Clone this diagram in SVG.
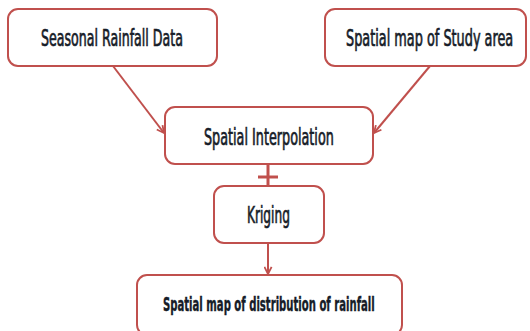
<svg xmlns="http://www.w3.org/2000/svg" width="530" height="331" viewBox="0 0 530 331">
<defs>
<style>
.box{fill:#fff;stroke:#c0504d;stroke-width:2}
.lbl{font-family:"DejaVu Sans Condensed","DejaVu Sans",sans-serif;font-size:23px;fill:#161c28;stroke:#161c28;stroke-width:0.7}
.b{font-size:19px;font-weight:bold;stroke-width:0.4}
.con{stroke:#c0504d;stroke-width:2;fill:none}
</style>
<marker id="ah" viewBox="0 0 10 10" refX="9" refY="5" markerWidth="9" markerHeight="9" markerUnits="userSpaceOnUse" orient="auto">
<path d="M1,1 L9,5 L1,9" fill="none" stroke="#c0504d" stroke-width="2"/>
</marker>
</defs>
<rect width="530" height="331" fill="#fff"/>
<g id="connectors">
<line class="con" x1="113" y1="66" x2="164" y2="133" marker-end="url(#ah)"/>
<line class="con" x1="430" y1="66" x2="374" y2="133" marker-end="url(#ah)"/>
<line x1="268" y1="164" x2="268" y2="186" stroke="#c0504d" stroke-width="3"/>
<line x1="258" y1="177" x2="278" y2="177" stroke="#c0504d" stroke-width="3"/>
<line class="con" x1="268" y1="243" x2="268" y2="274" marker-end="url(#ah)"/>
</g>
<g id="n1">
<rect class="box" x="8" y="9" width="209" height="57" rx="10"/>
<text class="lbl" transform="translate(41,46) scale(0.55,1)" textLength="258" lengthAdjust="spacingAndGlyphs">Seasonal Rainfall Data</text>
</g>
<g id="n2">
<rect class="box" x="325" y="9" width="201" height="57" rx="10"/>
<text class="lbl" transform="translate(346,46) scale(0.55,1)" textLength="304" lengthAdjust="spacingAndGlyphs">Spatial map of Study area</text>
</g>
<g id="n3">
<rect class="box" x="165" y="107" width="208" height="57" rx="10"/>
<text class="lbl" transform="translate(204,145) scale(0.55,1)" textLength="236" lengthAdjust="spacingAndGlyphs">Spatial Interpolation</text>
</g>
<g id="n4">
<rect class="box" x="214" y="186" width="110" height="57" rx="10"/>
<text class="lbl" transform="translate(247,223) scale(0.55,1)" textLength="78" lengthAdjust="spacingAndGlyphs">Kriging</text>
</g>
<g id="n5">
<rect class="box" x="137" y="275" width="265" height="60" rx="10"/>
<text class="lbl b" transform="translate(163,311) scale(0.55,1)" textLength="385" lengthAdjust="spacingAndGlyphs">Spatial map of distribution of rainfall</text>
</g>
</svg>
